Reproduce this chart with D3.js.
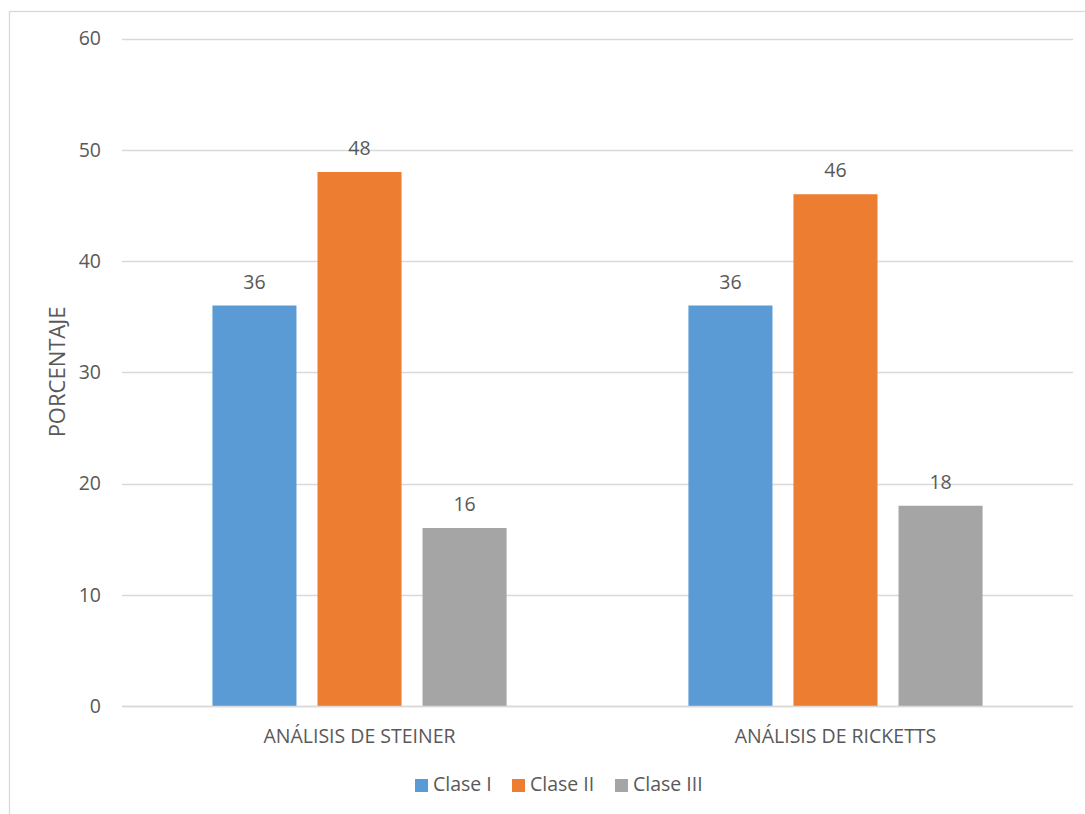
<!DOCTYPE html>
<html><head><meta charset="utf-8">
<script src="https://cdn.jsdelivr.net/npm/d3@7"></script>
<style>body{margin:0;background:#fff}svg{display:block}text{font-family:"Open Sans",sans-serif;fill:#595959}</style>
</head><body><svg id="c" width="1085" height="814"></svg>
<script>
const categories = ["ANÁLISIS DE STEINER", "ANÁLISIS DE RICKETTS"];
const seriesNames = ["Clase I", "Clase II", "Clase III"];
const claseI = [36, 36];
const claseII = [48, 46];
const claseIII = [16, 18];
const colors = ["#5B9BD5", "#ED7D31", "#A5A5A5"];
const yTicks = [0, 10, 20, 30, 40, 50, 60];
const yLabel = "PORCENTAJE";

const series = [claseI, claseII, claseIII];
const svg = d3.select("#c");
svg.append("rect").attr("x", 9.5).attr("y", 11.5).attr("width", 1090).attr("height", 820)
  .attr("fill", "none").attr("stroke", "#D9D9D9").attr("stroke-width", 1.3);

const L = 122, R = 1073, T = 38.5, B = 706;
const y = d3.scaleLinear().domain([0, 60]).range([B, T]);
const x0 = d3.scaleBand().domain(categories).range([L, R]).paddingInner(0.382).paddingOuter(0.19);
const x1 = d3.scaleBand().domain(seriesNames).range([0, x0.bandwidth()]).paddingInner(0.2);

const FS = "19.5px";
// grid
svg.append("g").selectAll("line").data(yTicks).join("line")
  .attr("x1", L).attr("x2", R).attr("y1", d => Math.round(y(d)) + 0.5).attr("y2", d => Math.round(y(d)) + 0.5)
  .attr("stroke", "#D9D9D9").attr("stroke-width", 1.3);
// y axis labels
const yAxis = d3.axisLeft(y).tickValues(yTicks).tickSize(0).tickPadding(0);
const ya = svg.append("g").attr("transform", `translate(${L - 21},0)`).call(yAxis);
ya.select(".domain").remove();
ya.selectAll("text").style("font-size", FS).style("font-family", "'Open Sans',sans-serif").attr("fill", "#595959").attr("dy", "0.33em");

// bars
const groups = svg.append("g").selectAll("g").data(series).join("g").attr("fill", (d, i) => colors[i]);
groups.selectAll("rect").data((d, i) => d.map((v, j) => ({v, c: categories[j], s: seriesNames[i]}))).join("rect")
  .attr("x", d => x0(d.c) + x1(d.s)).attr("width", x1.bandwidth())
  .attr("y", d => y(d.v)).attr("height", d => B - y(d.v));
// value labels
groups.selectAll("text").data((d, i) => d.map((v, j) => ({v, c: categories[j], s: seriesNames[i]}))).join("text")
  .attr("x", d => x0(d.c) + x1(d.s) + x1.bandwidth() / 2).attr("y", d => y(d.v) - 17)
  .attr("text-anchor", "middle").style("font-size", FS).attr("fill", "#404040").text(d => d.v);

// baseline
svg.append("line").attr("x1", L).attr("x2", R).attr("y1", B + 0.5).attr("y2", B + 0.5).attr("stroke", "#D9D9D9").attr("stroke-width", 1.3);

// x axis labels
const xa = svg.append("g").attr("transform", `translate(0,${B})`).call(d3.axisBottom(x0).tickSize(0).tickPadding(0));
xa.select(".domain").remove();
xa.selectAll("text").style("font-size", FS).style("font-family", "'Open Sans',sans-serif").attr("fill", "#595959").attr("dy", "0").attr("y", 37);

// y label
svg.append("text").attr("transform", `translate(65,372) rotate(-90)`).attr("text-anchor", "middle")
  .style("font-size", "22px").text(yLabel);

// legend
const legX = [415, 512, 615];
const lg = svg.append("g").selectAll("g").data(seriesNames).join("g").attr("transform", (d, i) => `translate(${legX[i]},779)`);
lg.append("rect").attr("width", 13).attr("height", 13).attr("fill", (d, i) => colors[i]);
lg.append("text").attr("x", 18).attr("y", 12).style("font-size", FS).text(d => d);
</script></body></html>
